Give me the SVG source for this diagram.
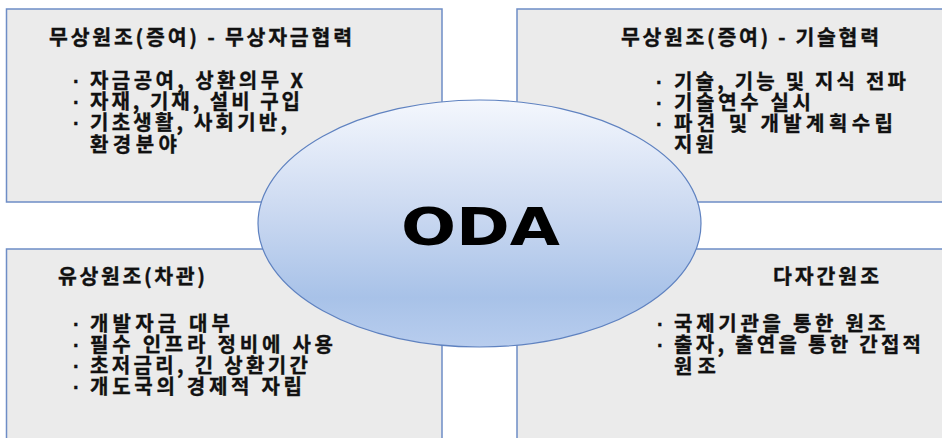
<svg xmlns="http://www.w3.org/2000/svg" width="942" height="438" viewBox="0 0 942 438">
<style>
.box{fill:#ebebeb;stroke:#6e8dc6;stroke-width:1.5}
.t{font-family:"Noto Sans CJK KR","Noto Sans",sans-serif;font-weight:700;fill:#111;stroke:#111;stroke-width:0.35}
.h{font-size:20.5px}
.b{font-size:20px}
.d{font-family:"Liberation Sans",sans-serif}
</style>
<defs>
<linearGradient id="eg" x1="0" y1="0" x2="0" y2="1">
<stop offset="0" stop-color="#f4f7fd"/>
<stop offset="0.45" stop-color="#cbd9f1"/>
<stop offset="0.8" stop-color="#a8c2e8"/>
<stop offset="1" stop-color="#b8cdee"/>
</linearGradient>
</defs>
<g id="box-grant-funds">
<rect class="box" x="6.5" y="9" width="435.5" height="193"/>
<text class="t h" x="49" y="45" textLength="303" lengthAdjust="spacing">무상원조(증여) - 무상자금협력</text>
<text class="t b" y="88"><tspan class="d" x="73">·</tspan><tspan x="90" textLength="213" lengthAdjust="spacing">자금공여, 상환의무 X</tspan></text>
<text class="t b" y="109"><tspan class="d" x="73">·</tspan><tspan x="90" textLength="210" lengthAdjust="spacing">자재, 기재, 설비 구입</tspan></text>
<text class="t b" y="130"><tspan class="d" x="73">·</tspan><tspan x="90" textLength="197" lengthAdjust="spacing">기초생활, 사회기반,</tspan></text>
<text class="t b" x="90" y="152" textLength="87" lengthAdjust="spacing">환경분야</text>
</g>
<g id="box-grant-tech">
<rect class="box" x="517" y="9" width="440" height="193"/>
<text class="t h" x="621" y="45" textLength="258" lengthAdjust="spacing">무상원조(증여) - 기술협력</text>
<text class="t b" y="89"><tspan class="d" x="656">·</tspan><tspan x="674" textLength="232" lengthAdjust="spacing">기술, 기능 및 지식 전파</tspan></text>
<text class="t b" y="110"><tspan class="d" x="656">·</tspan><tspan x="674" textLength="137" lengthAdjust="spacing">기술연수 실시</tspan></text>
<text class="t b" y="131"><tspan class="d" x="656">·</tspan><tspan x="674" textLength="219" lengthAdjust="spacing">파견 및 개발계획수립</tspan></text>
<text class="t b" x="674" y="152" textLength="40" lengthAdjust="spacing">지원</text>
</g>
<g id="box-loan">
<rect class="box" x="6.5" y="249" width="435.5" height="200"/>
<text class="t h" x="58" y="284" textLength="147" lengthAdjust="spacing">유상원조(차관)</text>
<text class="t b" y="331"><tspan class="d" x="73">·</tspan><tspan x="90" textLength="140" lengthAdjust="spacing">개발자금 대부</tspan></text>
<text class="t b" y="352"><tspan class="d" x="73">·</tspan><tspan x="90" textLength="243" lengthAdjust="spacing">필수 인프라 정비에 사용</tspan></text>
<text class="t b" y="373"><tspan class="d" x="73">·</tspan><tspan x="90" textLength="218" lengthAdjust="spacing">초저금리, 긴 상환기간</tspan></text>
<text class="t b" y="394"><tspan class="d" x="73">·</tspan><tspan x="90" textLength="212" lengthAdjust="spacing">개도국의 경제적 자립</tspan></text>
</g>
<g id="box-multilateral">
<rect class="box" x="517" y="249" width="440" height="200"/>
<text class="t h" x="773" y="284" textLength="106" lengthAdjust="spacing">다자간원조</text>
<text class="t b" y="331"><tspan class="d" x="657">·</tspan><tspan x="674" textLength="212" lengthAdjust="spacing">국제기관을 통한 원조</tspan></text>
<text class="t b" y="352"><tspan class="d" x="657">·</tspan><tspan x="674" textLength="247" lengthAdjust="spacing">출자, 출연을 통한 간접적</tspan></text>
<text class="t b" x="674" y="374" textLength="42" lengthAdjust="spacing">원조</text>
</g>
<g id="oda">
<ellipse cx="479.5" cy="223.5" rx="221.5" ry="123.5" fill="url(#eg)" stroke="#5f82c0" stroke-width="1.2"/>
<text x="401" y="245" font-family="'DejaVu Sans',sans-serif" font-weight="700" font-size="52" fill="#000" textLength="159" lengthAdjust="spacingAndGlyphs">ODA</text>
</g>
</svg>
